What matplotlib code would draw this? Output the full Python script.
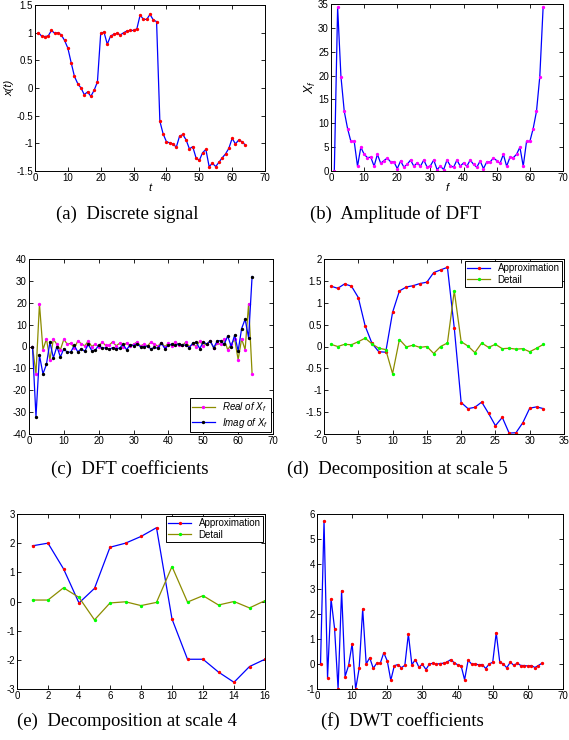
import matplotlib
matplotlib.use('Agg')
import matplotlib.pyplot as plt
import numpy as np

# (a) discrete signal x(t), t = 1..64
t = np.arange(1, 65)
x_t = [1.0, 0.94, 0.93, 0.94, 1.04, 0.99, 1.0, 0.96, 0.86, 0.72,
       0.46, 0.21, 0.08, 0.0, -0.12, -0.07, -0.15, -0.04, 0.11, 0.99,
       1.01, 0.79, 0.94, 0.97, 0.99, 0.96, 1.0, 1.03, 1.04, 1.04,
       1.07, 1.32, 1.24, 1.24, 1.33, 1.23, 1.2, -0.6, -0.83, -0.97,
       -0.99, -1.01, -1.07, -0.87, -0.84, -0.94, -1.1, -1.06, -1.26, -1.31,
       -1.17, -1.11, -1.42, -1.36, -1.42, -1.34, -1.26, -1.19, -1.09, -0.91,
       -1.01, -0.94, -0.97, -1.03]

# (b) amplitude of DFT, f = 1..64
f = np.arange(1, 65)
amp = [0.0, 34.3, 19.8, 12.5, 8.9, 6.2, 6.2, 1.0, 5.0, 3.5,
       2.8, 2.9, 1.0, 3.5, 1.6, 2.2, 2.7, 1.9, 1.9, 0.5,
       2.1, 0.8, 1.4, 2.3, 1.0, 1.7, 1.0, 2.3, 0.8, 1.1,
       2.3, 0.3, 1.0, 0.3, 2.3, 1.1, 0.8, 2.3, 1.0, 1.7,
       1.0, 2.3, 1.4, 0.8, 2.1, 0.5, 1.9, 1.9, 2.7, 2.2,
       1.6, 3.5, 1.0, 2.9, 2.8, 3.5, 5.0, 1.0, 6.2, 6.2,
       8.9, 12.5, 19.8, 34.3]

# (c) real and imaginary parts of DFT
re_x = [0.0, -12.5, 19.5, -1.5, 3.5, -6.0, 3.3, 1.0, -1.5, 3.3,
        1.0, 1.5, -0.8, 2.5, 1.3, 0.3, 2.5, 0.0, 1.0, 0.0,
        2.0, 0.5, 0.5, 2.2, 0.3, 1.5, 0.0, 1.7, 0.2, 1.0,
        2.0, 0.3, 1.0, 0.3, 2.0, 1.0, 0.2, 1.7, 0.0, 1.5,
        0.3, 2.2, 0.5, 0.5, 2.0, 0.0, 1.0, 0.0, 2.5, 0.3,
        1.3, 2.5, -0.8, 1.5, 1.0, 3.3, -1.5, 1.0, 3.3, -6.0,
        3.5, -1.5, 19.5, -12.5]
im_x = [0.0, -32.0, -4.0, -12.5, -8.2, 2.0, -5.2, 0.0, -4.8, -1.0,
        -2.7, -2.5, 0.5, -2.5, -1.0, -2.2, 1.0, -1.9, -1.6, 0.5,
        -0.7, -0.6, -1.3, -0.5, -1.0, -0.7, 1.0, -1.5, 0.8, 0.4,
        1.1, -0.1, 0.0, 0.1, -1.1, -0.4, -0.8, 1.5, -1.0, 0.7,
        1.0, 0.5, 1.3, 0.6, 0.7, -0.5, 1.6, 1.9, -1.0, 2.2,
        1.0, 2.5, -0.5, 2.5, 2.7, 1.0, 4.8, 0.0, 5.2, -2.0,
        8.2, 12.5, 4.0, 32.0]

# (d) decomposition at scale 5
k5 = np.arange(1, 33)
approx5 = [1.38, 1.33, 1.43, 1.38, 1.12, 0.47, 0.07, -0.12, -0.13, 0.78,
           1.27, 1.36, 1.39, 1.44, 1.47, 1.69, 1.75, 1.81, 0.42, -1.28,
           -1.42, -1.39, -1.27, -1.53, -1.81, -1.62, -1.98, -1.97, -1.74, -1.41,
           -1.38, -1.42]
detail5 = [0.05, 0.0, 0.05, 0.04, 0.11, 0.19, 0.06, -0.04, -0.07, -0.62,
           0.16, -0.01, 0.03, -0.02, 0.0, -0.16, 0.0, 0.08, 1.27, 0.11,
           0.01, -0.14, 0.08, -0.02, 0.05, -0.05, -0.04, -0.06, -0.05, -0.12,
           -0.04, 0.05]

# (e) decomposition at scale 4
k4 = np.arange(1, 17)
approx4 = [1.91, 2.0, 1.12, -0.05, 0.45, 1.86, 2.0, 2.23, 2.53, -0.6,
           -1.98, -1.98, -2.42, -2.77, -2.23, -1.98]
detail4 = [0.05, 0.05, 0.47, 0.14, -0.63, -0.05, -0.01, -0.14, -0.03, 1.2,
           -0.02, 0.2, -0.12, 0.0, -0.22, 0.03]

# (f) DWT coefficients
dwt = [0.0, 5.73, -0.55, 2.6, 1.42, -1.0, 2.93, -0.5, -0.05, 0.82,
       -1.0, -0.17, 2.2, 0.0, 0.25, -0.17, 0.03, 0.03, 0.45, 0.12,
       -0.65, -0.07, -0.02, -0.15, -0.05, 1.2, -0.03, 0.18, -0.13, -0.01,
       -0.22, 0.0, 0.03, -0.01, 0.02, 0.03, 0.08, 0.17, 0.06, -0.03,
       -0.07, -0.63, 0.15, 0.0, 0.0, -0.03, -0.02, -0.18, 0.0, 0.07,
       1.25, 0.08, 0.0, -0.15, 0.07, -0.05, 0.03, -0.06, -0.06, -0.08,
       -0.06, -0.14, -0.06, 0.03]

W, H = 569, 740
fontsize = 7
ms = 2.8
lw = 0.9
olive = '#8c8c00'

plt.rcParams['font.family'] = ['Liberation Sans', 'DejaVu Sans']
plt.rcParams['mathtext.fontset'] = 'custom'
plt.rcParams['mathtext.it'] = 'Liberation Sans:italic'
plt.rcParams['mathtext.rm'] = 'Liberation Sans'

fig = plt.figure(figsize=(W / 100, H / 100), dpi=100)


def make_axes(left, top, right, bottom):
    # pixel box -> figure fraction
    return fig.add_axes([left / W, 1 - bottom / H, (right - left) / W, (bottom - top) / H])


def style(ax, xlim, ylim, xstep, ystep):
    ax.set_xlim(*xlim)
    ax.set_ylim(*ylim)
    ax.set_xticks(np.arange(xlim[0], xlim[1] + 1e-6, xstep))
    ax.set_yticks(np.arange(ylim[0], ylim[1] + 1e-6, ystep))
    ax.yaxis.set_major_formatter(matplotlib.ticker.FormatStrFormatter('%g'))
    ax.xaxis.set_major_formatter(matplotlib.ticker.FormatStrFormatter('%g'))
    ax.tick_params(direction='in', top=True, right=True, labelsize=fontsize,
                   length=3, width=0.6, pad=1.5)
    for s in ax.spines.values():
        s.set_linewidth(0.7)


def legend(ax, loc):
    leg = ax.legend(loc=loc, fontsize=fontsize, fancybox=False, edgecolor='black',
                    framealpha=1, borderaxespad=0.2, handlelength=2.3, borderpad=0.25,
                    labelspacing=0.15)
    leg.get_frame().set_linewidth(0.7)


def caption(x, y, txt):
    fig.text(x / W, 1 - y / H, txt, ha='center', va='center',
             fontsize=13.5, family='Liberation Serif')


# (a)
ax = make_axes(35, 5, 265, 171)
ax.plot(t, x_t, color='blue', linewidth=lw, marker='.', markersize=ms,
        markerfacecolor='red', markeredgecolor='red')
style(ax, (0, 70), (-1.5, 1.5), 10, 0.5)
ax.set_xlabel('t', fontsize=fontsize + 1, style='italic', labelpad=0)
ax.set_ylabel('x(t)', fontsize=fontsize + 1, style='italic', labelpad=1)
caption(127, 214, '(a)  Discrete signal')

# (b)
ax = make_axes(331, 4, 563, 171)
ax.plot(f, amp, color='blue', linewidth=lw, marker='.', markersize=ms,
        markerfacecolor='magenta', markeredgecolor='magenta')
style(ax, (0, 70), (0, 35), 10, 5)
ax.set_xlabel('f', fontsize=fontsize + 1, style='italic', labelpad=0)
ax.set_ylabel(r'$X_f$', fontsize=fontsize + 2, labelpad=0)
caption(395, 214, '(b)  Amplitude of DFT')

# (c)
ax = make_axes(29, 259, 273, 434)
ax.plot(f, re_x, color=olive, linewidth=lw, marker='.', markersize=ms,
        markerfacecolor='magenta', markeredgecolor='magenta', label=r'$Real\ of\ X_f$')
ax.plot(f, im_x, color='blue', linewidth=lw, marker='.', markersize=ms,
        markerfacecolor='black', markeredgecolor='black', label=r'$Imag\ of\ X_f$')
style(ax, (0, 70), (-40, 40), 10, 10)
legend(ax, 'lower right')
caption(130, 469, '(c)  DFT coefficients')

# (d)
ax = make_axes(324, 259, 564, 434)
ax.plot(k5, approx5, color='blue', linewidth=lw, marker='.', markersize=ms,
        markerfacecolor='red', markeredgecolor='red', label='Approximation')
ax.plot(k5, detail5, color=olive, linewidth=lw, marker='.', markersize=ms,
        markerfacecolor='#00ff00', markeredgecolor='#00ff00', label='Detail')
style(ax, (0, 35), (-2, 2), 5, 0.5)
legend(ax, 'upper right')
caption(397, 469, '(d)  Decomposition at scale 5')

# (e)
ax = make_axes(17, 514, 265, 689)
ax.plot(k4, approx4, color='blue', linewidth=lw, marker='.', markersize=ms,
        markerfacecolor='red', markeredgecolor='red', label='Approximation')
ax.plot(k4, detail4, color=olive, linewidth=lw, marker='.', markersize=ms,
        markerfacecolor='#00ff00', markeredgecolor='#00ff00', label='Detail')
style(ax, (0, 16), (-3, 3), 2, 1)
legend(ax, 'upper right')
caption(127, 721, '(e)  Decomposition at scale 4')

# (f)
ax = make_axes(317, 514, 563, 689)
ax.plot(t, dwt, color='blue', linewidth=lw, marker='.', markersize=ms,
        markerfacecolor='red', markeredgecolor='red')
style(ax, (0, 70), (-1, 6), 10, 1)
caption(402, 721, '(f)  DWT coefficients')

fig.savefig('out.png', dpi=100)
